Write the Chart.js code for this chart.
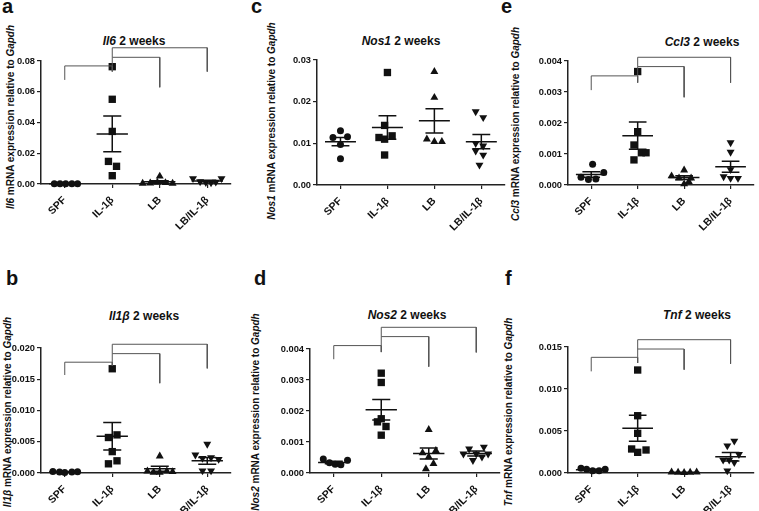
<!DOCTYPE html>
<html><head><meta charset="utf-8">
<script src="https://cdn.jsdelivr.net/npm/chart.js@4.4.1/dist/chart.umd.min.js"></script>
<style>
html,body{margin:0;padding:0;background:#fff;}
body{width:759px;height:511px;overflow:hidden;position:relative;font-family:"Liberation Sans",Arial,sans-serif;color:#111;}
canvas{position:absolute;}
.t{position:absolute;white-space:nowrap;font-weight:bold;line-height:1;transform:translate(-50%,-50%);}
.ttl{font-size:12px;}
.yt{font-size:10px;transform:translate(-50%,-50%) rotate(-90deg);}
.lt{position:absolute;font-weight:bold;font-size:20px;line-height:20px;}
</style></head><body>

<div class="lt" style="left:2px;top:-4px">a</div>
<div class="lt" style="left:251px;top:-4px">c</div>
<div class="lt" style="left:501px;top:-4px">e</div>
<div class="lt" style="left:6px;top:268px">b</div>
<div class="lt" style="left:254px;top:268px">d</div>
<div class="lt" style="left:505px;top:268px">f</div>

<div class="t ttl" style="left:134px;top:41px"><i>Il6</i> 2 weeks</div>
<div class="t ttl" style="left:401px;top:41px"><i>Nos1</i> 2 weeks</div>
<div class="t ttl" style="left:702px;top:42px"><i>Ccl3</i> 2 weeks</div>
<div class="t ttl" style="left:144px;top:316px"><i>Il1β</i> 2 weeks</div>
<div class="t ttl" style="left:407px;top:315px"><i>Nos2</i> 2 weeks</div>
<div class="t ttl" style="left:697px;top:315px"><i>Tnf</i> 2 weeks</div>

<div class="t yt" style="left:11px;top:117px"><i>Il6</i> mRNA expression relative to <i>Gapdh</i></div>
<div class="t yt" style="left:272px;top:121px"><i>Nos1</i> mRNA expression relative to <i>Gapdh</i></div>
<div class="t yt" style="left:516px;top:124px"><i>Ccl3</i> mRNA expression relative to <i>Gapdh</i></div>
<div class="t yt" style="left:8px;top:412px"><i>Il1β</i> mRNA expression relative to <i>Gapdh</i></div>
<div class="t yt" style="left:256px;top:412px"><i>Nos2</i> mRNA expression relative to <i>Gapdh</i></div>
<div class="t yt" style="left:509px;top:412px"><i>Tnf</i> mRNA expression relative to <i>Gapdh</i></div>

<script>
// ---------- DATA ----------
const categories = ['SPF', 'IL-1β', 'LB', 'LB/IL-1β'];

// Il6 (panel a)
const il6Ticks   = ['0.00', '0.02', '0.04', '0.06', '0.08'];
const il6SPF     = [0.0002, 0.0002, 0.0002, 0.0002, 0.0002];
const il6IL1b    = [0.0763, 0.0551, 0.0342, 0.0147, 0.0115, 0.0054];
const il6LB      = [0.0050, 0.0004, 0.0006, 0.0010, 0.0008, 0.0004];
const il6LBIL1b  = [0.0036, 0.0016, 0.0011, 0.0009, 0.0013, 0.0036];
const il6Means   = [0.0002, 0.0326, 0.0014, 0.0019];
const il6Sems    = [0.00002, 0.0116, 0.0007, 0.0005];
const il6Brackets = [[0, 1, 0.0677, 0.0768, 0.0731], [1, 2, 0.0768, 0.0824, 0.0629], [1, 3, 0.0824, 0.0886, 0.0731]];

// Nos1 (panel c)
const nos1Ticks  = ['0.00', '0.01', '0.02', '0.03'];
const nos1SPF    = [0.0130, 0.0114, 0.0097, 0.0116, 0.0063];
const nos1IL1b   = [0.0270, 0.0143, 0.0114, 0.0110, 0.0118, 0.0072];
const nos1LB     = [0.0272, 0.0210, 0.0110, 0.0104, 0.0104];
const nos1LBIL1b = [0.0176, 0.0162, 0.0100, 0.0094, 0.0082, 0.0072, 0.0048];
const nos1Means  = [0.0104, 0.0138, 0.0154, 0.0104];
const nos1Sems   = [0.0010, 0.0028, 0.0029, 0.0017];
const nos1Brackets = [];

// Ccl3 (panel e)
const ccl3Ticks  = ['0.000', '0.001', '0.002', '0.003', '0.004'];
const ccl3SPF    = [0.00067, 0.00040, 0.00025, 0.00018, 0.00019];
const ccl3IL1b   = [0.00366, 0.00172, 0.00129, 0.00104, 0.00104, 0.00081];
const ccl3LB     = [0.00048, 0.00029, 0.00022, 0.00022, 0.00011, 0.00003];
const ccl3LBIL1b = [0.00137, 0.00106, 0.00050, 0.00027, 0.00022, 0.00022];
const ccl3Means  = [0.00034, 0.00159, 0.00024, 0.00059];
const ccl3Sems   = [0.00009, 0.00044, 0.00006, 0.00018];
const ccl3Brackets = [[0, 1, 0.00306, 0.00352, 0.0033], [1, 2, 0.00352, 0.00382, 0.00283], [1, 3, 0.00382, 0.00412, 0.0033]];

// Il1b (panel b)
const il1bTicks  = ['0.000', '0.005', '0.010', '0.015', '0.020'];
const il1bSPF    = [0.00026, 0.00016, 0.00010, 0.00016, 0.00020];
const il1bIL1b   = [0.01668, 0.00610, 0.00568, 0.00342, 0.00195, 0.00147];
const il1bLB     = [0.0027, 0.0003, 0.0001, 0.0001, 0.0003, 0.0002];
const il1bLBIL1b = [0.00463, 0.00290, 0.00237, 0.00247, 0.00221, 0.00037, 0.00037];
const il1bMeans  = [0.00018, 0.0059, 0.00068, 0.00195];
const il1bSems   = [0.00003, 0.0022, 0.0004, 0.00055];
const il1bBrackets = [[0, 1, 0.01568, 0.01773, 0.0172], [1, 2, 0.01773, 0.0191, 0.01437], [1, 3, 0.0191, 0.0206, 0.01674]];

// Nos2 (panel d)
const nos2Ticks  = ['0.000', '0.001', '0.002', '0.003', '0.004'];
const nos2SPF    = [0.00045, 0.00033, 0.00028, 0.00027, 0.00041];
const nos2IL1b   = [0.00322, 0.00292, 0.00175, 0.00165, 0.00150, 0.00122];
const nos2LB     = [0.00140, 0.00072, 0.00065, 0.00052, 0.00030, 0.00013];
const nos2LBIL1b = [0.00078, 0.00084, 0.00062, 0.00062, 0.00052, 0.00041, 0.00062];
const nos2Means  = [0.00034, 0.00204, 0.00063, 0.00063];
const nos2Sems   = [0.00004, 0.00033, 0.00018, 0.00008];
const nos2Brackets = [[0, 1, 0.00367, 0.00411, 0.0039], [1, 2, 0.00411, 0.0044, 0.00343], [1, 3, 0.0044, 0.0047, 0.00389]];

// Tnf (panel f)
const tnfTicks   = ['0.000', '0.005', '0.010', '0.015'];
const tnfSPF     = [0.00056, 0.00044, 0.00028, 0.00028, 0.00044];
const tnfIL1b    = [0.01226, 0.00682, 0.00472, 0.00286, 0.00246, 0.00274];
const tnfLB      = [0.00010, 0.00008, 0.00005, 0.00008, 0.00010];
const tnfLBIL1b  = [0.00381, 0.00325, 0.00222, 0.00155, 0.00155, 0.00127, 0.00027];
const tnfMeans   = [0.00040, 0.00532, 0.00008, 0.00194];
const tnfSems    = [0.00006, 0.00155, 0.00001, 0.00050];
const tnfBrackets = [[0, 1, 0.0121, 0.01377, 0.0131], [1, 2, 0.01377, 0.01476, 0.0123], [1, 3, 0.01476, 0.01587, 0.013]];

// horizontal scatter of dots within each group (category units)
const il6Jit  = [[-0.22,-0.1,0.02,0.15,0.27],[0,0,0,-0.08,0.09,0],[0,-0.36,-0.2,-0.05,0.12,0.27],[-0.3,-0.15,-0.03,0.08,0.18,0.3]];
const nos1Jit = [[0,-0.16,0,0.15,0],[0,-0.06,-0.18,-0.06,0.1,-0.06],[0,0,-0.16,0,0.16],[-0.12,0.04,-0.12,0.04,-0.12,0.04,-0.04]];
const ccl3Jit = [[0.03,0.27,-0.22,-0.06,0.1],[0,0,-0.08,0.08,0.18,-0.08],[0,-0.27,-0.11,0.15,0.1,0],[0,0,0,-0.15,0,0.16]];
const il1bJit = [[-0.25,-0.11,0,0.15,0.27],[0,0.1,-0.08,0,0.1,-0.08],[0,-0.26,-0.13,0,0.15,0.27],[0,-0.25,-0.1,0.08,0.24,-0.1,0.08]];
const nos2Jit = [[-0.22,-0.09,0.03,0.15,0.29],[0,0,0,-0.08,0.1,0],[0,0.15,-0.13,0,0.1,-0.06],[-0.15,0.16,-0.27,0,0.12,-0.07,0.25]];
const tnfJit  = [[-0.22,-0.1,0.03,0.17,0.3],[0,0,0,-0.13,0,0.18],[-0.27,-0.13,0,0.13,0.27],[0.08,-0.07,0.18,-0.16,-0.03,0.08,-0.07]];

// ---------- LAYOUT ----------
const panels = [
  {box:[0,0,250,255],   plot:[41,61,231,184],  ticks:il6Ticks,  groups:[il6SPF,il6IL1b,il6LB,il6LBIL1b],     jit:il6Jit,  means:il6Means,  sems:il6Sems,  brackets:il6Brackets},
  {box:[250,0,260,255], plot:[317,60,507,185], ticks:nos1Ticks, groups:[nos1SPF,nos1IL1b,nos1LB,nos1LBIL1b], jit:nos1Jit, means:nos1Means, sems:nos1Sems, brackets:nos1Brackets},
  {box:[500,0,259,255], plot:[568,61,758,185], ticks:ccl3Ticks, groups:[ccl3SPF,ccl3IL1b,ccl3LB,ccl3LBIL1b], jit:ccl3Jit, means:ccl3Means, sems:ccl3Sems, brackets:ccl3Brackets},
  {box:[0,255,250,256], plot:[41,348,231,473], ticks:il1bTicks, groups:[il1bSPF,il1bIL1b,il1bLB,il1bLBIL1b], jit:il1bJit, means:il1bMeans, sems:il1bSems, brackets:il1bBrackets},
  {box:[250,255,260,256], plot:[310,349,500,473], ticks:nos2Ticks, groups:[nos2SPF,nos2IL1b,nos2LB,nos2LBIL1b], jit:nos2Jit, means:nos2Means, sems:nos2Sems, brackets:nos2Brackets},
  {box:[500,255,259,256], plot:[568,347,758,473], ticks:tnfTicks, groups:[tnfSPF,tnfIL1b,tnfLB,tnfLBIL1b], jit:tnfJit, means:tnfMeans, sems:tnfSems, brackets:tnfBrackets}
];

const markers = [
  {style:'circle', rot:0, r:3.5},
  {style:'rect', rot:0, r:5.2},
  {style:'triangle', rot:0, r:4.6},
  {style:'triangle', rot:180, r:4.6}
];
const INK = '#111';
const FONT = '"Liberation Sans", Arial, sans-serif';

function makePanel(p) {
  const [bx, by, bw, bh] = p.box;
  const [pl, pt, pr, pb] = p.plot;
  const cv = document.createElement('canvas');
  cv.width = bw; cv.height = bh;
  cv.style.left = bx + 'px'; cv.style.top = by + 'px';
  cv.style.width = bw + 'px'; cv.style.height = bh + 'px';
  document.body.appendChild(cv);

  const tickVals = p.ticks.map(Number);
  const datasets = [];

  // mean and SEM bars
  const ms = [];
  p.means.forEach((m, gi) => {
    const s = p.sems[gi];
    ms.push({x: gi - 0.33, y: m}, {x: gi + 0.33, y: m}, {x: gi, y: null},
            {x: gi - 0.19, y: m + s}, {x: gi + 0.19, y: m + s}, {x: gi, y: null},
            {x: gi - 0.19, y: m - s}, {x: gi + 0.19, y: m - s}, {x: gi, y: null},
            {x: gi, y: m + s}, {x: gi, y: m - s}, {x: gi, y: null});
  });
  datasets.push({data: ms, showLine: true, pointRadius: 0, borderColor: INK, borderWidth: 1.5, clip: false, spanGaps: false});

  // significance brackets
  if (p.brackets.length) {
    const br = [];
    p.brackets.forEach(([a, b, yl, yt, yr]) => {
      br.push({x: a, y: yl}, {x: a, y: yt}, {x: b, y: yt}, {x: b, y: yr}, {x: a, y: null});
    });
    datasets.push({data: br, showLine: true, pointRadius: 0, borderColor: '#555', borderWidth: 1, clip: false, spanGaps: false});
  }

  // individual animals
  p.groups.forEach((vals, gi) => {
    const mk = markers[gi];
    datasets.push({
      data: vals.map((v, k) => ({x: gi + p.jit[gi][k], y: v})),
      showLine: false,
      pointStyle: mk.style, pointRotation: mk.rot, pointRadius: mk.r,
      pointBackgroundColor: INK, pointBorderColor: INK, pointBorderWidth: 0,
      clip: false
    });
  });

  new Chart(cv, {
    type: 'scatter',
    data: {datasets},
    options: {
      responsive: false, animation: false, devicePixelRatio: 1,
      layout: {padding: {left: 0, top: pt - by, right: (bx + bw) - pr, bottom: 0}},
      plugins: {legend: {display: false}, tooltip: {enabled: false}},
      scales: {
        x: {
          type: 'linear', min: -0.5, max: 3.5,
          afterBuildTicks: s => { s.ticks = categories.map((c, i) => ({value: i})); },
          afterFit: s => { s.height = (by + bh) - pb; },
          ticks: {callback: (v, i) => categories[i], minRotation: 45, maxRotation: 45, autoSkip: false,
                  font: {family: FONT, size: 10.5, weight: 'bold'}, color: INK, padding: 6},
          grid: {display: true, drawOnChartArea: false, drawTicks: true, tickLength: 4, color: '#222', lineWidth: 1.2},
          border: {display: true, color: '#222', width: 1.5}
        },
        y: {
          min: 0, max: tickVals[tickVals.length - 1],
          afterBuildTicks: s => { s.ticks = tickVals.map(v => ({value: v})); },
          afterFit: s => { s.width = pl - bx; },
          ticks: {callback: (v, i) => p.ticks[i], font: {family: FONT, size: 9.3, weight: 'bold'}, color: INK, padding: 2},
          grid: {display: true, drawOnChartArea: false, drawTicks: true, tickLength: 4, color: '#222', lineWidth: 1.2},
          border: {display: true, color: '#222', width: 1.5}
        }
      }
    }
  });
}

panels.forEach(makePanel);
</script>
</body></html>
